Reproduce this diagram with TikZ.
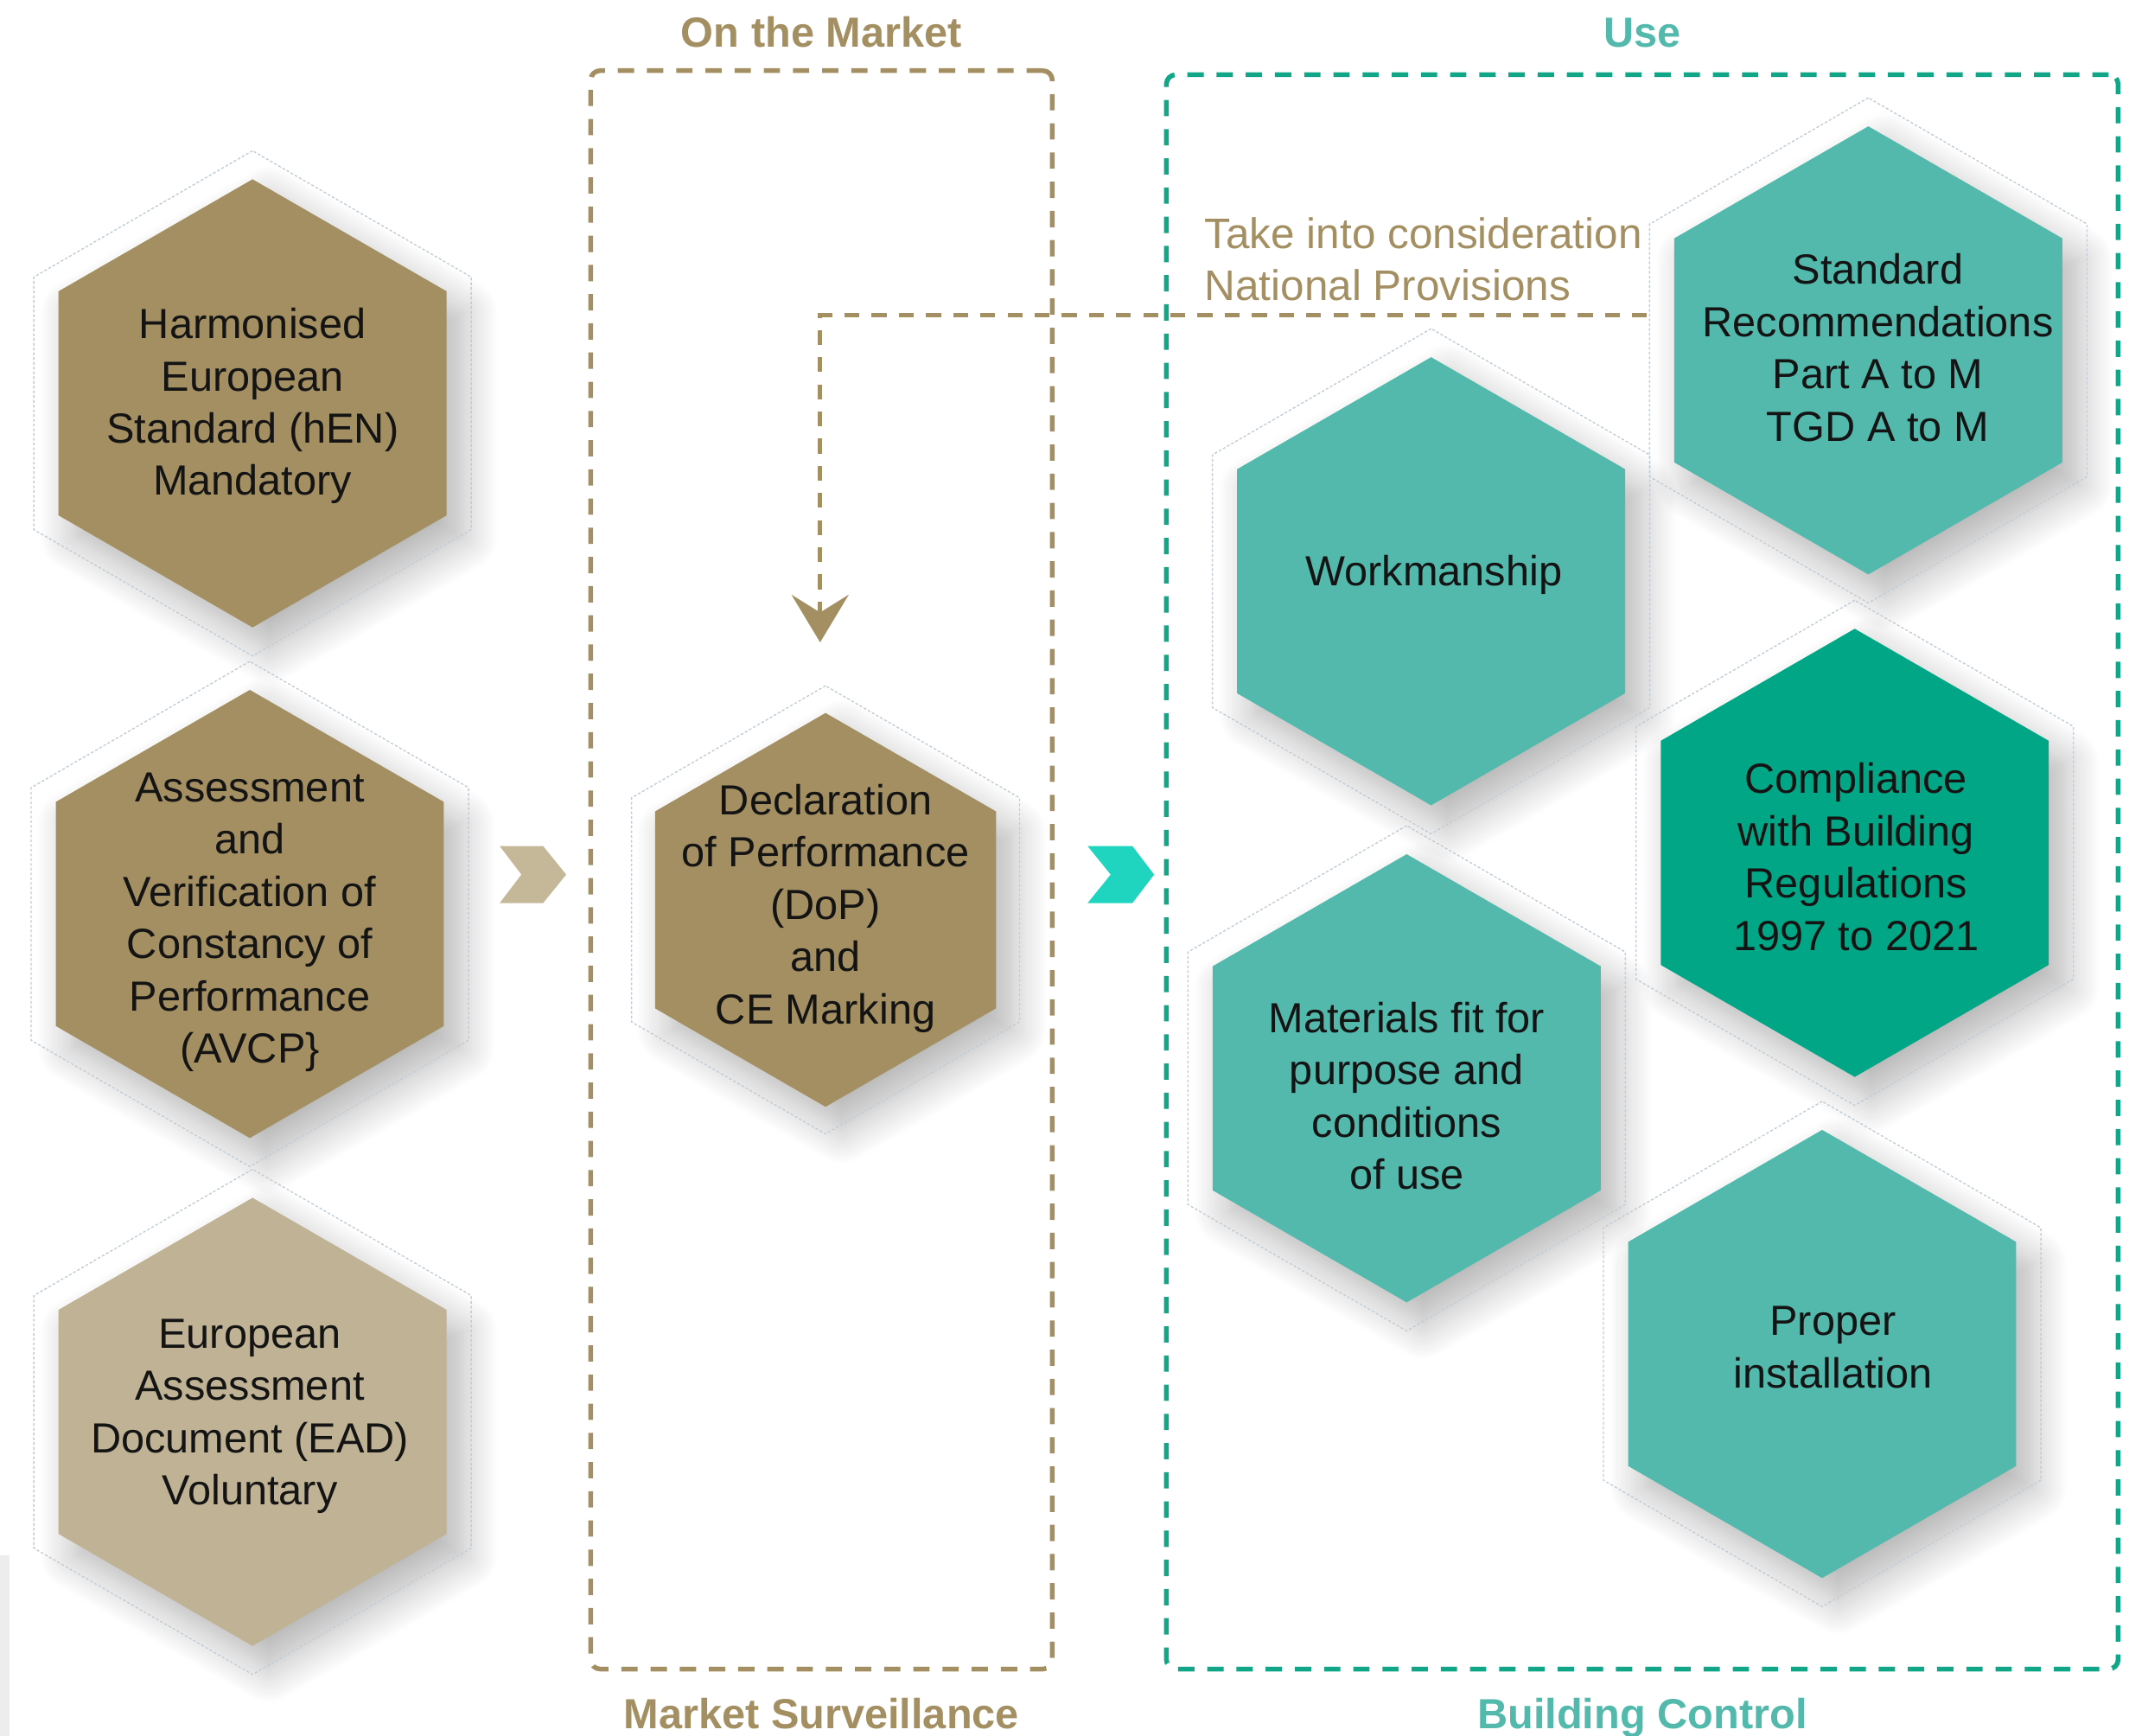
\documentclass[tikz,border=0pt]{standalone}
\usepackage{fontspec}
\setmainfont{Liberation Sans}
\usetikzlibrary{positioning,calc,shapes.geometric,arrows.meta,shadows.blur}
\definecolor{gold}{HTML}{A38F62}
\definecolor{sand}{HTML}{C0B395}
\definecolor{tealA}{HTML}{52B9AC}
\definecolor{tealB}{HTML}{00A685}
\definecolor{chevsand}{HTML}{C4B898}
\definecolor{chevteal}{HTML}{20D5C0}
\definecolor{rimgrey}{HTML}{C2CDD5}
\definecolor{usedash}{HTML}{10A687}

\begin{document}
\begin{tikzpicture}[x=1pt,y=-1pt,
				hex/.style={regular polygon,regular polygon sides=6,shape border rotate=30,minimum size=330pt,inner sep=0pt,outer sep=0pt,
					blur shadow={shadow xshift=12pt,shadow yshift=-16pt,shadow blur radius=26pt,shadow blur steps=14,shadow opacity=30}},
				rimhex/.style={regular polygon,regular polygon sides=6,shape border rotate=30,minimum size=#1,inner sep=0pt,
					draw=rimgrey,line width=0.9pt,dash pattern=on 2pt off 1.5pt},
				rimhex/.default=372pt,
				hextext/.style={align=center,inner sep=0pt,font=\fontsize{31}{38.5}\selectfont,text=black!92},
				zone/.style={draw,rectangle,rounded corners=7pt,line width=3.5pt,dash pattern=on 12pt off 9.5pt,inner sep=0pt,outer sep=0pt},
				zonelabel/.style={inner sep=0pt,font=\fontsize{31}{36}\selectfont\bfseries},
				note/.style={inner sep=0pt,align=left,text=gold,font=\fontsize{31.5}{38}\selectfont},
				link/.style={draw=gold,line width=3pt,dash pattern=on 11pt off 9pt,-{Stealth[length=35pt,width=42pt,inset=13pt]}}]
	\useasboundingbox (0,0) rectangle (1568,1278);
	\fill[black!7] (0,1145) rectangle (7,1278);

	% zones
	\node (MARKET) [zone,draw=gold,minimum width=340pt,minimum height=1177pt] at (605,640.5) {};
	\node (USE)    [zone,draw=usedash,minimum width=701pt,minimum height=1174pt] at (1209.5,642) {};
	\node (MKTTOP) [zonelabel,text=gold,above=17pt of MARKET.north] {On the Market};
	\node (MKTBOT) [zonelabel,text=gold,below=21pt of MARKET.south] {Market Surveillance};
	\node (USETOP) [zonelabel,text=tealA,above=20pt of USE.north] {Use};
	\node (USEBOT) [zonelabel,text=tealA,below=21pt of USE.south] {Building Control};

	% hexagons
	\node (HEN)  [hex,fill=gold]  at (186,297)  {};
	\node (AVCP) [hex,fill=gold]  at (184,673)  {};
	\node (EAD)  [hex,fill=sand]  at (186,1047) {};
	\node (DOP)  [hex,fill=gold,minimum size=290pt] at (608,670) {};
	\node (STD)  [hex,fill=tealA] at (1376,258) {};
	\node (WORK) [hex,fill=tealA] at (1054,428) {};
	\node (COMP) [hex,fill=tealB] at (1366,628) {};
	\node (MAT)  [hex,fill=tealA] at (1036,794) {};
	\node (INST) [hex,fill=tealA] at (1342,997) {};
	\foreach \n in {HEN,AVCP,EAD,STD,WORK,COMP,MAT,INST}
		\node (\n-RIM) [rimhex] at (\n) {};
	\node (DOP-RIM) [rimhex=330pt] at (DOP) {};

	\node (HEN-T)  [hextext] at (186,299)  {Harmonised\\European\\Standard (hEN)\\Mandatory};
	\node (AVCP-T) [hextext] at (184,679)  {Assessment\\and\\Verification of\\Constancy of\\Performance\\(AVCP\}};
	\node (EAD-T)  [hextext] at (184,1043) {European\\Assessment\\Document (EAD)\\Voluntary};
	\node (DOP-T)  [hextext] at (608,669)  {Declaration\\of Performance\\(DoP)\\and\\CE Marking};
	\node (STD-T)  [hextext] at (1383,256) {Standard\\Recommendations\\Part A to M\\TGD A to M};
	\node (WORK-T) [hextext] at (1056,423) {Workmanship};
	\node (COMP-T) [hextext] at (1367,631) {Compliance\\with Building\\Regulations\\1997 to 2021};
	\node (MAT-T)  [hextext] at (1036,807) {Materials fit for\\purpose and\\conditions\\of use};
	\node (INST-T) [hextext] at (1350,992) {Proper\\installation};

	% chevrons
	\fill[chevsand] (368,623) -- (400,623) -- (417,644) -- (400,665) -- (368,665) -- (384,644) -- cycle;
	\fill[chevteal] (801,623) -- (834,623) -- (850,644) -- (834,665) -- (801,665) -- (818,644) -- cycle;

	% national provisions
	\node (NOTE) [note,anchor=west] at (887,191) {Take into consideration\\National Provisions};
	\coordinate (NPS) at (1213,232);
	\draw[link] (NPS) -| ([xshift=-4pt,yshift=197pt]DOP.center);
\end{tikzpicture}
\end{document}
